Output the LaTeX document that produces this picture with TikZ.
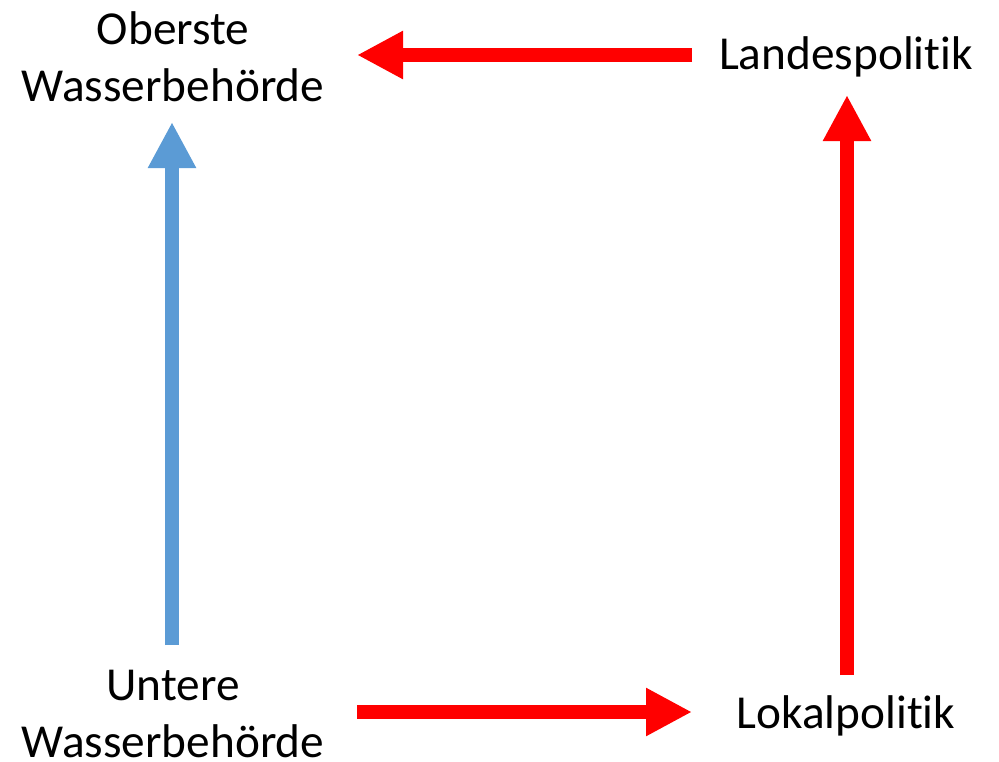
\documentclass[tikz,border=0pt]{standalone}
\usepackage{fontspec}
\setmainfont{Carlito}[RawFeature={-liga;-clig;-dlig}]
\usetikzlibrary{arrows.meta}
\definecolor{arrblue}{HTML}{5B9BD5}
\definecolor{arrred}{HTML}{FF0000}
\begin{document}
\begin{tikzpicture}[x=1pt,y=-1pt,
  lbl/.style={align=center,inner sep=0pt,font=\fontsize{47.3}{57}\selectfont},
  bigarrow/.style={line width=14pt,-{Triangle[length=46pt,width=45pt]}}]
\useasboundingbox (0,0) rectangle (999,761);
\node[lbl] (owb) at (173,57) {Oberste\\Wasserbehörde};
\node[lbl] (lp) at (846,57) {Landespolitik};
\node[lbl] (uwb) at (173,714) {Untere\\Wasserbehörde};
\node[lbl] (lok) at (846,716) {Lokalpolitik};
\coordinate (b1) at (172,645);
\coordinate (b2) at (172,122);
\coordinate (r1) at (692,55);
\coordinate (r2) at (357,55);
\coordinate (s1) at (847,675);
\coordinate (s2) at (847,95);
\coordinate (t1) at (357,712);
\coordinate (t2) at (692,712);
\draw[bigarrow,draw=arrblue,color=arrblue] (b1) -- (b2);
\draw[bigarrow,draw=arrred,color=arrred] (r1) -- (r2);
\draw[bigarrow,draw=arrred,color=arrred] (s1) -- (s2);
\draw[bigarrow,draw=arrred,color=arrred] (t1) -- (t2);
\end{tikzpicture}
\end{document}
